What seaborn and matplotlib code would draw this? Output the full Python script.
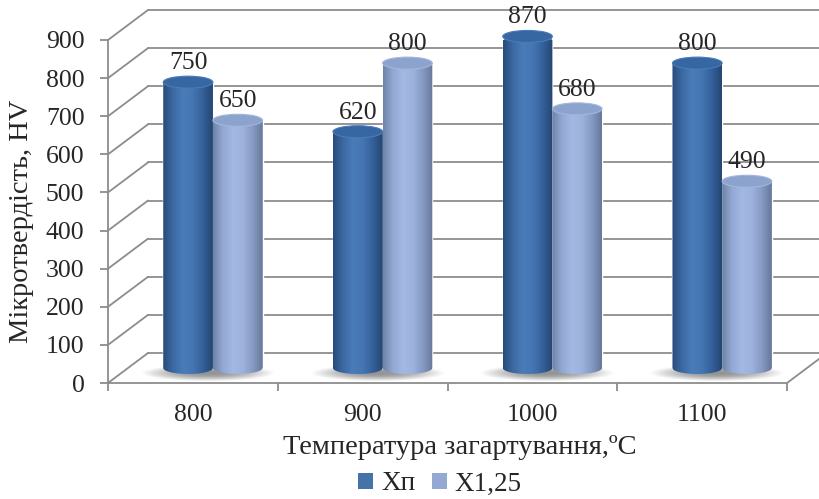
import numpy as np
import pandas as pd
import matplotlib
matplotlib.use("Agg")
import matplotlib.pyplot as plt
import seaborn as sns
from matplotlib.patches import Ellipse, PathPatch, Patch
from matplotlib.path import Path
from matplotlib.colors import LinearSegmentedColormap

# ---- data ----
temperatures = ["800", "900", "1000", "1100"]
series_names = ["Хп", "Х1,25"]
hardness_xp = [750, 620, 870, 800]
hardness_x125 = [650, 800, 680, 490]
y_ticks = list(range(0, 1000, 100))

df = pd.DataFrame({
    "temp": temperatures * 2,
    "value": hardness_xp + hardness_x125,
    "series": [series_names[0]] * 4 + [series_names[1]] * 4,
})

sns.set_style("white")
plt.rcParams["font.family"] = ["Liberation Serif", "DejaVu Serif"]
FS_TICK = 18.5
FS_TITLE = 20.5
FS_LEG = 19.5

W, H = 819, 499
fig = plt.figure(figsize=(W / 100, H / 100), dpi=100)
ax_l, ax_r, ax_b, ax_t = 108, 787, 383, 40
ax = fig.add_axes([ax_l / W, (H - ax_b) / H, (ax_r - ax_l) / W, (ax_b - ax_t) / H])

XMIN, XMAX, YMIN, YMAX = -0.5, 3.5, 0, 900
px_x = (ax_r - ax_l) / (XMAX - XMIN)     # pixels per category unit
px_y = (ax_b - ax_t) / (YMAX - YMIN)     # pixels per value unit

def dx(p):
    return p / px_x

def dy(p):
    return p / px_y

# depth offsets: back wall and the plane where the cylinders stand
BX, BY = dx(40), dy(30)
MX, MY = dx(20), dy(15)
ELL_H = dy(12)

grid_c = "#8c8c8c"
# left wall diagonals and back wall gridlines
for v in y_ticks:
    ax.plot([XMIN, XMIN + BX], [v, v + BY], color=grid_c, lw=1.3, clip_on=False, zorder=0.5)
    ax.plot([XMIN + BX, XMAX + BX], [v + BY, v + BY], color=grid_c, lw=1.3, clip_on=False, zorder=0.5)
# floor right edge
ax.plot([XMAX, XMAX + BX], [0, BY], color=grid_c, lw=1.3, clip_on=False, zorder=0.5)

dark = "#4572a8"
light = "#93a9d2"
sns.barplot(data=df, x="temp", y="value", hue="series", order=temperatures,
            hue_order=series_names, palette=[dark, light], saturation=1,
            width=0.585, dodge=True, ax=ax, legend=False, zorder=2)

cmaps = {
    series_names[0]: LinearSegmentedColormap.from_list(
        "d", ["#284b7a", "#3b69a3", "#4a7cba", "#4576b2", "#34609a", "#25466f"]),
    series_names[1]: LinearSegmentedColormap.from_list(
        "l", ["#6f82a6", "#93a9d4", "#a3b9e2", "#9db2dc", "#8699c2", "#66789a"]),
}
top_colors = {series_names[0]: "#3767a2", series_names[1]: "#8ca3cd"}
top_edges = {series_names[0]: "#4a7bb8", series_names[1]: "#a2b6dc"}

# soft floor shadows under each pair
for i in range(len(temperatures)):
    gx = i + MX - dx(5)
    gy = dy(10)
    xs = np.linspace(-1, 1, 160)
    ys = np.linspace(-1, 1, 40)
    X, Y = np.meshgrid(xs, ys)
    r2 = (X / 0.8) ** 2 + (Y / 0.6) ** 2
    alpha = 0.85 * np.clip(1 - r2, 0, 1) ** 1.2
    rgba = np.zeros((40, 160, 4))
    rgba[..., :3] = 0.5
    rgba[..., 3] = alpha
    ax.imshow(rgba, extent=(gx - dx(85), gx + dx(85), gy - dy(14), gy + dy(14)),
              aspect="auto", zorder=1, clip_on=False, interpolation="bilinear")

grad = np.linspace(0, 1, 256)[None, :]
for cont, name in zip(ax.containers, series_names):
    for bar in cont:
        x0 = bar.get_x() + MX
        w = bar.get_width()
        h = bar.get_height()
        base = MY
        bar.set_x(x0)
        bar.set_y(base)
        bar.set_clip_on(False)
        xc = x0 + w / 2
        t = np.linspace(np.pi, 2 * np.pi, 60)
        verts = [(x0, base + h), (x0, base)]
        verts += list(zip(xc + (w / 2) * np.cos(t), base + (ELL_H / 2) * np.sin(t)))
        verts += [(x0 + w, base + h), (x0, base + h)]
        codes = [Path.MOVETO] + [Path.LINETO] * (len(verts) - 2) + [Path.CLOSEPOLY]
        clip = PathPatch(Path(verts, codes), transform=ax.transData,
                         facecolor="none", edgecolor="none")
        ax.add_patch(clip)
        clip.set_clip_on(False)
        im = ax.imshow(grad, cmap=cmaps[name], extent=(x0, x0 + w, base - ELL_H, base + h),
                       aspect="auto", zorder=2.1, interpolation="bilinear")
        im.set_clip_path(clip)
        top = Ellipse((xc, base + h), w, ELL_H, facecolor=top_colors[name],
                      edgecolor=top_edges[name], lw=0.8, zorder=2.2, clip_on=False)
        ax.add_patch(top)
        ax.text(xc, base + h + dy(13), f"{int(h)}", ha="center", va="baseline",
                fontsize=FS_TICK, zorder=3, clip_on=False)

ax.set_xlim(XMIN, XMAX)
ax.set_ylim(YMIN, YMAX)

for s in ["top", "right"]:
    ax.spines[s].set_visible(False)
for s in ["left", "bottom"]:
    ax.spines[s].set_color(grid_c)
    ax.spines[s].set_linewidth(1.3)

ax.set_yticks(y_ticks)
ax.set_yticklabels([str(v) for v in y_ticks], fontsize=FS_TICK)
ax.tick_params(axis="y", direction="out", length=6, width=1.3, color=grid_c, pad=11, left=True)
ax.set_xticks(range(len(temperatures)))
ax.set_xticklabels(temperatures, fontsize=FS_TICK)
ax.set_xticks([i - 0.5 for i in range(len(temperatures) + 1)], minor=True)
ax.tick_params(axis="x", which="major", length=0, pad=15, bottom=True)
ax.tick_params(axis="x", which="minor", direction="out", length=6, width=1.3, color=grid_c, bottom=True)
ax.set_xlabel("")
ax.set_ylabel("")
ax.patch.set_alpha(0)

fig.text(22 / W, 1 - 221 / H, "Мікротвердість, HV", rotation=90, ha="center", va="center",
         fontsize=FS_TITLE)
fig.text(460 / W, 1 - 447 / H, "Температура загартування,ºC", ha="center", va="center",
         fontsize=FS_TITLE)

handles = [Patch(facecolor=dark, edgecolor="none"), Patch(facecolor=light, edgecolor="none")]
fig.legend(handles, series_names, loc="center", bbox_to_anchor=(440 / W, 1 - 484 / H),
           ncol=2, frameon=False, fontsize=FS_LEG, handlelength=0.55, handleheight=0.55,
           handletextpad=0.3, columnspacing=0.6, borderpad=0)

fig.savefig("out.png", dpi=100)
